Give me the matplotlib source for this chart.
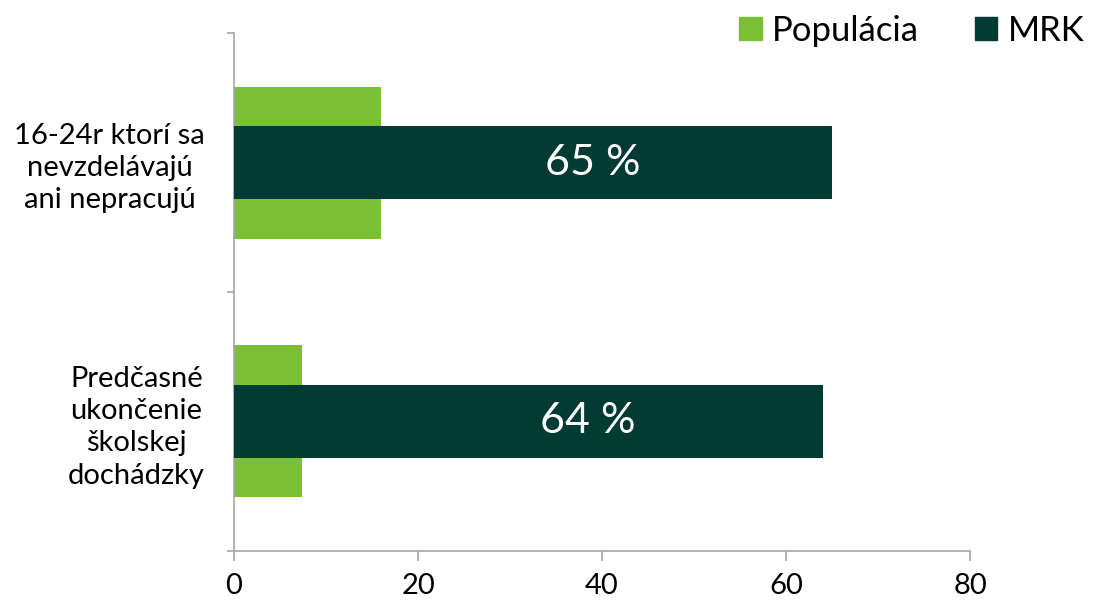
import matplotlib.pyplot as plt
from matplotlib.patches import Patch

plt.rcParams['font.family'] = ['Lato', 'DejaVu Sans']

categories = ['Predčasné\nukončenie\nškolskej\ndochádzky',
              '16-24r ktorí sa\nnevzdelávajú\nani nepracujú']
populacia = [7.4, 16.0]
mrk = [64, 65]
mrk_labels = ['64 %', '65 %']
series_names = ['Populácia', 'MRK']

c_pop = '#7bbf35'
c_mrk = '#023b33'
c_axis = '#a6a6a6'

fig = plt.figure(figsize=(11.09, 6.06), dpi=100)
ax = fig.add_axes([0.211, 0.0908, 0.6637, 0.8547])

pos = [0.5, 1.5]
ax.barh(pos, populacia, height=0.587, color=c_pop, zorder=2)
bars = ax.barh(pos, mrk, height=0.28, color=c_mrk, zorder=3)
for b, lab in zip(bars, mrk_labels):
    ax.text(b.get_width() * 0.6, b.get_y() + b.get_height() / 2, lab,
            color='white', fontsize=31, ha='center', va='center', zorder=4)

ax.set_xlim(0, 80)
ax.set_ylim(0, 2)
ax.set_xticks([0, 20, 40, 60, 80])
ax.set_yticks([0, 1, 2])
ax.set_yticklabels([])
ax.set_yticks(pos, minor=True)
ax.set_yticklabels(categories, minor=True, fontsize=21)
for lbl in ax.get_yticklabels(minor=True):
    lbl.set_multialignment('center')
    lbl.set_linespacing(1.3)
ax.tick_params(axis='y', which='minor', length=0, pad=21)
ax.tick_params(axis='y', which='major', length=5, color=c_axis, width=1.2)
ax.tick_params(axis='x', length=7, color=c_axis, width=1.2, labelsize=21, pad=9)

for s in ['top', 'right']:
    ax.spines[s].set_visible(False)
for s in ['left', 'bottom']:
    ax.spines[s].set_color(c_axis)
    ax.spines[s].set_linewidth(1.2)

handles = [Patch(color=c_pop), Patch(color=c_mrk)]
fig.legend(handles, series_names, ncol=2, frameon=False, fontsize=25,
           loc='upper right', bbox_to_anchor=(1.006, 1.027),
           handlelength=0.65, handleheight=0.65, handletextpad=0.3,
           columnspacing=1.6)

fig.savefig('out.png', dpi=100)
